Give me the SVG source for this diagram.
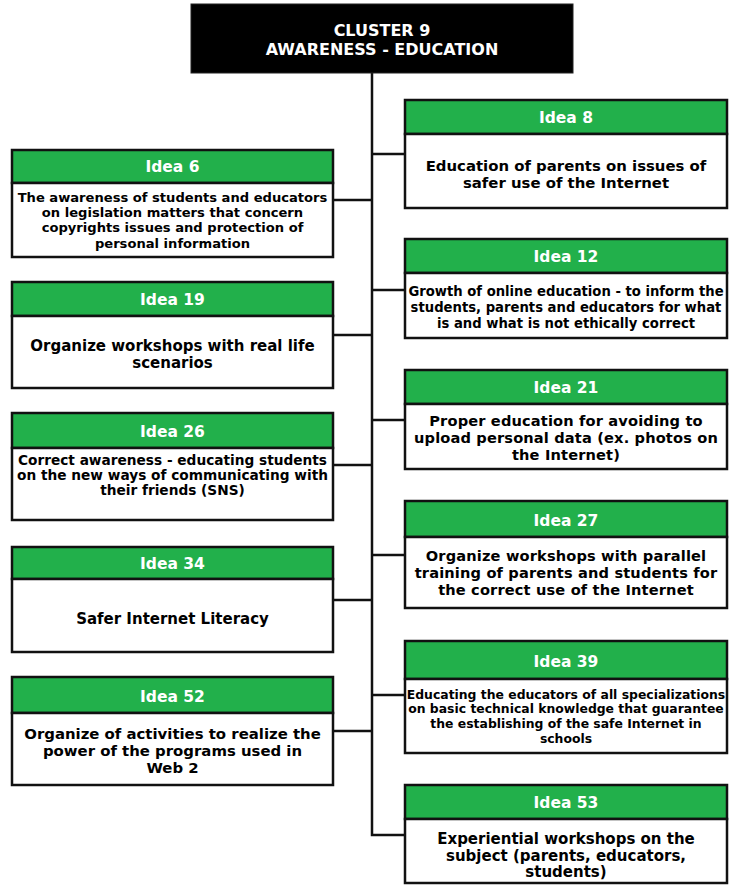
<svg xmlns="http://www.w3.org/2000/svg" width="731" height="885" viewBox="0 0 731 885">
<style>
.hd{fill:#22b04b;stroke:#111;stroke-width:2.5}
.bd{fill:#fff;stroke:#111;stroke-width:2.5}
.ht{fill:#fff;font-family:"DejaVu Sans",Verdana,sans-serif;font-weight:bold;font-size:15.5px;text-anchor:middle}
.t{fill:#000;font-family:"DejaVu Sans",Verdana,sans-serif;font-weight:bold;text-anchor:middle}
.conn{fill:none;stroke:#111;stroke-width:2.5}
</style>
<g id="connectors">
<path class="conn" d="M372,73 V835 H405"/>
<path class="conn" d="M372,154 H405 M372,290 H405 M372,420 H405 M372,555 H405 M372,695 H405"/>
<path class="conn" d="M334,200 H372 M334,335 H372 M334,465 H372 M334,600 H372 M334,731 H372"/>
</g>
<g id="cluster">
<rect x="191" y="4" width="382" height="69" fill="#000" stroke="#222" stroke-width="1"/>
<text class="ht" x="382" y="36" style="font-size:16px">CLUSTER 9</text>
<text class="ht" x="382" y="55" style="font-size:16px">AWARENESS - EDUCATION</text>
</g>
<g id="idea6">
<rect class="hd" x="12" y="150" width="321" height="33"/>
<rect class="bd" x="12" y="183" width="321" height="74"/>
<text class="ht" x="172.5" y="172">Idea 6</text>
<text class="t" font-size="13.1" x="172.5" y="201.5">The awareness of students and educators</text>
<text class="t" font-size="13.1" x="172.5" y="216.5">on legislation matters that concern</text>
<text class="t" font-size="13.1" x="172.5" y="231.5">copyrights issues and protection of</text>
<text class="t" font-size="13.1" x="172.5" y="247.5">personal information</text>
</g>
<g id="idea19">
<rect class="hd" x="12" y="282" width="321" height="34"/>
<rect class="bd" x="12" y="316" width="321" height="72"/>
<text class="ht" x="172.5" y="304.5">Idea 19</text>
<text class="t" font-size="15" x="172.5" y="350.5">Organize workshops with real life</text>
<text class="t" font-size="15" x="172.5" y="367.5">scenarios</text>
</g>
<g id="idea26">
<rect class="hd" x="12" y="413" width="321" height="35"/>
<rect class="bd" x="12" y="448" width="321" height="72"/>
<text class="ht" x="172.5" y="436.5">Idea 26</text>
<text class="t" font-size="13.7" x="172.5" y="465">Correct awareness - educating students</text>
<text class="t" font-size="13.7" x="172.5" y="480">on the new ways of communicating with</text>
<text class="t" font-size="13.7" x="172.5" y="495">their friends (SNS)</text>
</g>
<g id="idea34">
<rect class="hd" x="12" y="547" width="321" height="32"/>
<rect class="bd" x="12" y="579" width="321" height="73"/>
<text class="ht" x="172.5" y="568.5">Idea 34</text>
<text class="t" font-size="15" x="172.5" y="623.5">Safer Internet Literacy</text>
</g>
<g id="idea52">
<rect class="hd" x="12" y="677" width="321" height="36"/>
<rect class="bd" x="12" y="713" width="321" height="72"/>
<text class="ht" x="172.5" y="701.5">Idea 52</text>
<text class="t" font-size="14.9" x="172.5" y="738.5">Organize of activities to realize the</text>
<text class="t" font-size="14.9" x="172.5" y="755.5">power of the programs used in</text>
<text class="t" font-size="14.9" x="172.5" y="772.5">Web 2</text>
</g>
<g id="idea8">
<rect class="hd" x="405" y="100" width="322" height="34"/>
<rect class="bd" x="405" y="134" width="322" height="74"/>
<text class="ht" x="566" y="122.5">Idea 8</text>
<text class="t" font-size="14.9" x="566" y="170.5">Education of parents on issues of</text>
<text class="t" font-size="14.9" x="566" y="187.5">safer use of the Internet</text>
</g>
<g id="idea12">
<rect class="hd" x="405" y="239" width="322" height="34"/>
<rect class="bd" x="405" y="273" width="322" height="65"/>
<text class="ht" x="566" y="261.5">Idea 12</text>
<text class="t" font-size="13.2" x="566" y="296">Growth of online education - to inform the</text>
<text class="t" font-size="13.2" x="566" y="312">students, parents and educators for what</text>
<text class="t" font-size="13.2" x="566" y="328">is and what is not ethically correct</text>
</g>
<g id="idea21">
<rect class="hd" x="405" y="370" width="322" height="34"/>
<rect class="bd" x="405" y="404" width="322" height="65"/>
<text class="ht" x="566" y="392.5">Idea 21</text>
<text class="t" font-size="14.6" letter-spacing="0.15" x="566" y="426">Proper education for avoiding to</text>
<text class="t" font-size="14.6" letter-spacing="0.15" x="566" y="443">upload personal data (ex. photos on</text>
<text class="t" font-size="14.6" letter-spacing="0.15" x="566" y="460">the Internet)</text>
</g>
<g id="idea27">
<rect class="hd" x="405" y="501" width="322" height="36"/>
<rect class="bd" x="405" y="537" width="322" height="71"/>
<text class="ht" x="566" y="525.5">Idea 27</text>
<text class="t" font-size="14.6" letter-spacing="0.15" x="566" y="561">Organize workshops with parallel</text>
<text class="t" font-size="14.6" letter-spacing="0.15" x="566" y="578">training of parents and students for</text>
<text class="t" font-size="14.6" letter-spacing="0.15" x="566" y="595">the correct use of the Internet</text>
</g>
<g id="idea39">
<rect class="hd" x="405" y="641" width="322" height="38"/>
<rect class="bd" x="405" y="679" width="322" height="74"/>
<text class="ht" x="566" y="666.5">Idea 39</text>
<text class="t" font-size="12.4" x="566" y="698.5">Educating the educators of all specializations</text>
<text class="t" font-size="12.4" x="566" y="713">on basic technical knowledge that guarantee</text>
<text class="t" font-size="12.4" x="566" y="728">the establishing of the safe Internet in</text>
<text class="t" font-size="12.4" x="566" y="742.5">schools</text>
</g>
<g id="idea53">
<rect class="hd" x="405" y="785" width="322" height="34"/>
<rect class="bd" x="405" y="819" width="322" height="64"/>
<text class="ht" x="566" y="807.5">Idea 53</text>
<text class="t" font-size="15" x="566" y="843.5">Experiential workshops on the</text>
<text class="t" font-size="15" x="566" y="860.5">subject (parents, educators,</text>
<text class="t" font-size="15" x="566" y="877">students)</text>
</g>
</svg>
